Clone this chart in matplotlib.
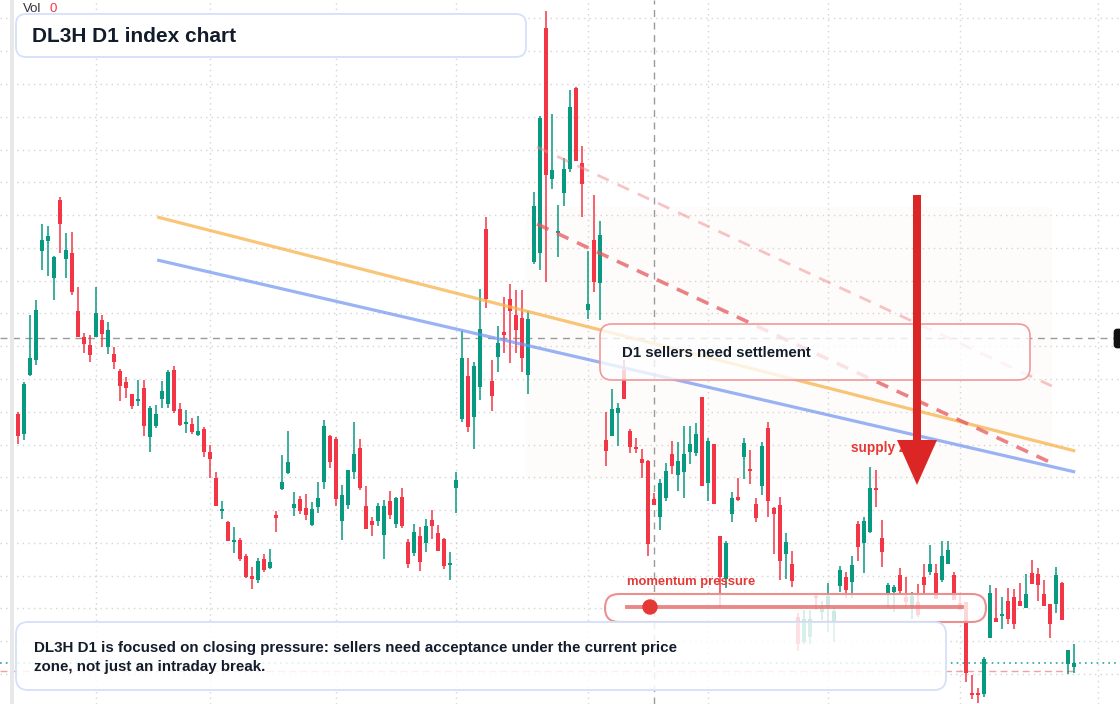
import matplotlib
matplotlib.use("Agg")
import matplotlib.pyplot as plt
import numpy as np
import matplotlib.transforms as mtransforms
from matplotlib.patches import FancyBboxPatch, Rectangle, FancyArrow, Circle

plt.rcParams['font.family'] = ['Liberation Sans', 'DejaVu Sans']

# ---------------- data (daily OHLC, index points) ----------------
opens = [290, 270, 329, 344, 453, 463, 426, 504, 445, 451, 393, 367, 359, 367, 384, 357, 350, 333, 322, 310,
         303, 316, 267, 278, 305, 300, 334, 295, 280, 280, 269, 275, 252, 226, 193, 182, 162, 164, 148, 128,
         124, 145, 136, 189, 215, 231, 196, 205, 196, 179, 197, 222, 268, 265, 183, 199, 232, 256, 198, 183,
         183, 169, 203, 180, 207, 162, 151, 168, 161, 184, 171, 165, 139, 216, 285, 328, 287, 317, 475, 323,
         347, 372, 405, 389, 386, 329, 442, 451, 676, 525, 471, 511, 535, 616, 541, 394, 464, 421, 264, 268,
         291, 334, 273, 256, 245, 243, 205, 187, 206, 250, 229, 232, 252, 251, 307, 221, 260, 168, 125, 190,
         207, 247, 234, 200, 218, 276, 196, 199, 150, 140, 87, 62, 67, 108, 92, 97, 82, 118, 127, 122,
         180, 161, 172, 215, 166, 111, 112, 129, 107, 97, 102, 127, 132, 131, 124, 140, 129, 101, 102, 11,
         10, 10, 66, 86, 88, 103, 107, 103, 96, 131, 130, 110, 100, 100, 121, 40, 37]
highs = [292, 322, 389, 404, 480, 478, 448, 507, 471, 472, 417, 371, 369, 417, 389, 382, 357, 335, 327, 310,
         324, 324, 298, 299, 323, 334, 338, 301, 294, 286, 288, 277, 259, 232, 203, 183, 177, 166, 150, 137,
         146, 150, 155, 193, 249, 273, 212, 208, 210, 202, 222, 284, 269, 267, 219, 234, 282, 265, 218, 187,
         201, 204, 213, 207, 216, 165, 180, 177, 185, 194, 179, 166, 152, 232, 373, 346, 342, 415, 487, 344,
         378, 407, 420, 414, 414, 393, 512, 588, 693, 590, 499, 546, 614, 617, 558, 453, 509, 483, 292, 315,
         301, 344, 275, 266, 255, 244, 211, 225, 241, 263, 262, 278, 278, 281, 307, 266, 260, 168, 163, 212,
         226, 266, 254, 206, 262, 282, 197, 207, 171, 153, 91, 94, 94, 111, 103, 121, 97, 138, 132, 148,
         183, 187, 237, 234, 184, 121, 119, 136, 127, 112, 120, 140, 159, 140, 163, 163, 132, 110, 102, 29,
         16, 47, 119, 116, 107, 116, 115, 121, 130, 144, 136, 124, 100, 137, 122, 54, 60]
lows = [260, 264, 328, 339, 434, 428, 404, 451, 426, 409, 367, 351, 342, 367, 357, 350, 335, 303, 306, 295,
        298, 268, 252, 276, 296, 296, 291, 278, 271, 270, 268, 247, 226, 198, 185, 163, 151, 143, 126, 115,
        121, 132, 135, 172, 214, 230, 188, 190, 184, 178, 191, 215, 236, 198, 164, 195, 225, 214, 175, 168,
        178, 145, 185, 176, 176, 136, 148, 133, 152, 165, 153, 135, 124, 191, 282, 272, 255, 304, 396, 293,
        332, 351, 341, 351, 332, 310, 440, 434, 422, 515, 447, 498, 532, 543, 487, 385, 412, 384, 238, 268,
        258, 305, 251, 251, 226, 148, 199, 174, 203, 230, 213, 206, 240, 248, 218, 203, 200, 95, 116, 182,
        203, 225, 220, 182, 209, 187, 150, 124, 125, 117, 53, 60, 60, 94, 84, 72, 62, 112, 106, 106,
        143, 131, 171, 197, 137, 96, 92, 111, 97, 85, 87, 111, 129, 105, 122, 140, 104, 94, 22, 5,
        1, 7, 66, 82, 75, 80, 75, 98, 96, 120, 103, 98, 66, 91, 84, 30, 31]
closes = [268, 320, 346, 394, 464, 468, 447, 480, 454, 412, 367, 360, 349, 391, 370, 374, 342, 318, 316, 298,
          304, 278, 296, 290, 313, 332, 293, 279, 282, 272, 273, 252, 245, 198, 195, 163, 163, 145, 127, 125,
          143, 134, 142, 186, 222, 242, 200, 193, 189, 195, 206, 278, 242, 205, 209, 234, 250, 216, 175, 179,
          198, 198, 189, 206, 178, 140, 172, 142, 178, 178, 153, 138, 140, 224, 346, 277, 338, 375, 405, 308,
          361, 369, 393, 374, 346, 385, 498, 586, 529, 534, 472, 535, 597, 543, 520, 400, 422, 469, 253, 295,
          296, 305, 257, 255, 241, 160, 199, 221, 233, 238, 243, 250, 260, 270, 218, 263, 200, 127, 161, 206,
          204, 261, 233, 186, 258, 203, 190, 143, 162, 123, 60, 85, 85, 106, 95, 108, 93, 134, 114, 139,
          157, 183, 216, 214, 152, 119, 117, 113, 102, 108, 89, 119, 140, 105, 148, 154, 104, 94, 31, 9,
          9, 45, 111, 82, 90, 85, 80, 98, 110, 120, 119, 98, 80, 129, 84, 54, 41]

month_starts = [13, 32, 53, 73, 95, 115, 135, 157, 180]     # session index of month boundaries
grid_levels = 30 + 32.78 * np.arange(21)                     # price grid

orange_x, orange_y = [23.2, 176.2], [487, 253]               # upper channel line
blue_x, blue_y = [23.2, 176.2], [444, 232]                   # lower channel line
fade_x, fade_y = [86.5, 172.3], [557, 318]                   # faint descending line
dash_x, dash_y = [86.5, 172.3], [480, 241]                   # descending resistance
zone_x, zone_y = [84.7, 172.3], [224, 497]                   # supply zone extent
cross_idx, cross_price = 106, 366                            # crosshair
prev_level = 33

# ---------------- figure ----------------
W, H = 1120, 704
fig = plt.figure(figsize=(W / 100, H / 100), dpi=100)
ax = fig.add_axes([0, 0, 1, 1])
ax.set_xlim(-3, 183.667)
ax.set_ylim(0, 704)
ax.axis('off')
px = mtransforms.Affine2D().scale(1 / 100, -1 / 100).translate(0, H / 100) + fig.dpi_scale_trans

# zone
ax.add_patch(Rectangle((zone_x[0], zone_y[0]), zone_x[1] - zone_x[0], zone_y[1] - zone_y[0],
                       facecolor='#f3b9a0', alpha=0.04, edgecolor='none', zorder=0))

# grid
for g in grid_levels:
    ax.axhline(g, color='#d4d4d4', lw=1.0, ls=(0, (1, 3)), zorder=1)
for m in month_starts:
    ax.axvline(m, color='#d4d4d4', lw=1.0, ls=(0, (1, 3)), zorder=1)

# crosshair
ax.axvline(cross_idx, color='#9a9a9a', lw=1.0, ls=(0, (5, 4)), zorder=2)
ax.axhline(cross_price, color='#9a9a9a', lw=1.0, ls=(0, (5, 4)), zorder=2)

# last price lines
ax.axhline(closes[-1], color='#26a69a', lw=1.2, ls=(0, (1, 2.5)), zorder=2)
ax.plot([-3, len(closes) - 0.5], [prev_level, prev_level], color='#f4a0a0', lw=1.0, ls=(0, (5, 3)), zorder=2)

# candles
o = np.array(opens, float); h = np.array(highs, float)
l = np.array(lows, float); c = np.array(closes, float)
x = np.arange(len(o))
cols = np.where(c >= o, '#089981', '#f23645')
ax.vlines(x, l, h, colors=cols, lw=1.1, zorder=3)
ax.bar(x, np.maximum(np.abs(c - o), 1.6), bottom=np.minimum(o, c), width=0.78,
       color=cols, linewidth=0, zorder=3)

# trend lines
ax.plot(orange_x, orange_y, color='#f7b24a', lw=2.3, alpha=0.75, solid_capstyle='butt', zorder=4)
ax.plot(blue_x, blue_y, color='#6f93f2', lw=2.3, alpha=0.7, solid_capstyle='butt', zorder=4)
ax.plot(fade_x, fade_y, color='#f08a8f', lw=2.0, alpha=0.5, ls=(0, (4.5, 3.5)), zorder=4)
ax.plot(dash_x, dash_y, color='#e5585e', lw=2.6, alpha=0.75, ls=(0, (3.5, 2.6)), zorder=4)

# left strip
fig.add_artist(Rectangle((10, 0), 4, H, transform=px, facecolor='#e8e8e8', edgecolor='none', zorder=1))

# Vol label
fig.text(23 / W, 1 - 9 / H, 'Vol', fontsize=9.5, color='#333333', va='center', ha='left')
fig.text(49 / W, 1 - 9 / H, '0', fontsize=9.5, color='#f23645', va='center', ha='left')

def rbox(x0, y0, w, h, r, fc, ec, lw, z):
    p = FancyBboxPatch((x0, y0), w, h, boxstyle=f'round,pad=0,rounding_size={r}',
                       transform=px, facecolor=fc, edgecolor=ec, lw=lw, zorder=z)
    fig.add_artist(p)

# title box
rbox(16, 14, 510, 43, 10, 'white', '#d3e1fa', 1.3, 10)
fig.text(32 / W, 1 - 36 / H, 'DL3H D1 index chart', fontsize=15, fontweight='bold',
         color='#131c2b', va='center', ha='left', zorder=11)

# settlement box
rbox(600, 324, 430, 56, 12, (1, 1, 1, 0.78), '#ef9a9a', 1.2, 10)
fig.text(622 / W, 1 - 353 / H, 'D1 sellers need settlement', fontsize=10.8, fontweight='bold',
         color='#131c2b', va='center', ha='left', zorder=11)

# supply zone label + arrow
fig.text(851 / W, 1 - 448 / H, 'supply zone', fontsize=9.8, fontweight='bold',
         color='#e53935', va='center', ha='left', zorder=11)
fig.add_artist(FancyArrow(917, 195, 0, 290, width=8, head_width=40, head_length=45,
                          length_includes_head=True, transform=px, color='#dc2626',
                          linewidth=0, zorder=12))

# momentum pressure
fig.text(627 / W, 1 - 582 / H, 'momentum pressure', fontsize=9.4, fontweight='bold',
         color='#e53935', va='center', ha='left', zorder=11)
rbox(605, 594, 381, 28, 14, (1, 1, 1, 0.8), '#ee8f8f', 1.5, 10)
fig.add_artist(plt.Line2D([627, 962], [607, 607], transform=px, color='#e57373',
                          lw=2.8, alpha=0.85, zorder=11))
fig.add_artist(Circle((650, 607), 7, transform=px, color='#e53935', zorder=12))

# bottom note box
rbox(16, 622, 930, 68, 12, (1, 1, 1, 0.85), '#d3e1fa', 1.3, 10)
fig.text(34 / W, 1 - 648 / H,
         'DL3H D1 is focused on closing pressure: sellers need acceptance under the current price',
         fontsize=10.9, fontweight='bold', color='#131c2b', va='center', ha='left', zorder=11)
fig.text(34 / W, 1 - 667 / H, 'zone, not just an intraday break.',
         fontsize=10.9, fontweight='bold', color='#131c2b', va='center', ha='left', zorder=11)

# crosshair price tag (cut at the edge)
rbox(1114, 329, 20, 19, 3, '#111111', '#111111', 0.5, 10)

fig.savefig('out.png', dpi=100)
